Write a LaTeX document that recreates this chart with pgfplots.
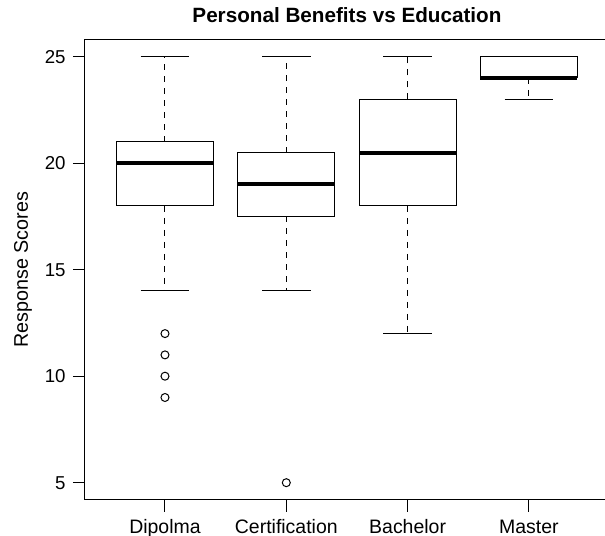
\documentclass[border=0pt]{standalone}
\usepackage{pgfplots}
\pgfplotsset{compat=1.18}
\usepgfplotslibrary{statistics}
\usepackage{fontspec}
\setmainfont{Liberation Sans}
\begin{document}
\begin{tikzpicture}
\begin{axis}[
  scale only axis,
  width=393pt, height=345pt,
  xmin=0.34, xmax=4.66, ymin=4.2, ymax=25.8,
  xtick={1,2,3,4},
  xticklabels={Dipolma,Certification,Bachelor,Master},
  ytick={5,10,15,20,25},
  tick pos=left,
  tick align=outside,
  major tick length=9pt,
  major tick style={draw=black, line width=0.75pt},
  axis line style={line width=0.75pt},
  /pgf/number format/assume math mode=true,
  yticklabel style={font=\fontsize{14}{16}\selectfont, anchor=east, xshift=-2pt},
  xticklabel style={font=\fontsize{14.6}{17}\selectfont, anchor=base, yshift=-16.3pt},
  title={Personal Benefits vs Education},
  every axis title/.style={at={(axis description cs:0.5,1.037)}, anchor=base, font=\bfseries\fontsize{15.5}{18}\selectfont},
  ylabel={Response Scores},
  every axis y label/.style={at={(axis description cs:-0.109,0.5)}, rotate=90, anchor=base, font=\fontsize{14.8}{17}\selectfont},
  clip=false,
  boxplot/draw direction=y,
  boxplot/box extend=0.8,
  boxplot/whisker extend=0.4,
  boxplot/every median/.style={line width=3pt},
  boxplot/draw/lower whisker/.code={%
    \draw[dash pattern=on 4.5pt off 4.5pt]
      (boxplot cs:\pgfplotsboxplotvalue{lower quartile}) --
      (boxplot cs:\pgfplotsboxplotvalue{lower whisker});
    \draw (boxplot whisker cs:\pgfplotsboxplotvalue{lower whisker},0) --
      (boxplot whisker cs:\pgfplotsboxplotvalue{lower whisker},1);
  },
  boxplot/draw/upper whisker/.code={%
    \draw[dash pattern=on 4.5pt off 4.5pt]
      (boxplot cs:\pgfplotsboxplotvalue{upper quartile}) --
      (boxplot cs:\pgfplotsboxplotvalue{upper whisker});
    \draw (boxplot whisker cs:\pgfplotsboxplotvalue{upper whisker},0) --
      (boxplot whisker cs:\pgfplotsboxplotvalue{upper whisker},1);
  },
]
\addplot[black, fill=white, line width=0.75pt, mark=o, mark size=3pt,
  boxplot prepared={draw position=1, lower whisker=14, lower quartile=18,
    median=20, upper quartile=21, upper whisker=25}]
  table[row sep=\\, y index=0] {y\\ 12\\ 11\\ 10\\ 9\\};
\addplot[black, fill=white, line width=0.75pt, mark=o, mark size=3pt,
  boxplot prepared={draw position=2, lower whisker=14, lower quartile=17.5,
    median=19, upper quartile=20.5, upper whisker=25}]
  table[row sep=\\, y index=0] {y\\ 5\\};
\addplot[black, fill=white, line width=0.75pt, mark=o, mark size=3pt,
  boxplot prepared={draw position=3, lower whisker=12, lower quartile=18,
    median=20.5, upper quartile=23, upper whisker=25}]
  coordinates {};
\addplot[black, fill=white, line width=0.75pt, mark=o, mark size=3pt,
  boxplot prepared={draw position=4, lower whisker=23, lower quartile=24,
    median=24, upper quartile=25, upper whisker=25}]
  coordinates {};
\coordinate (bbsw) at (axis cs:-0.36,2.498);
\coordinate (bbne) at (axis cs:4.627,27.662);
\end{axis}
\pgfresetboundingbox
\useasboundingbox (bbsw) rectangle (bbne);
\end{tikzpicture}
\end{document}
